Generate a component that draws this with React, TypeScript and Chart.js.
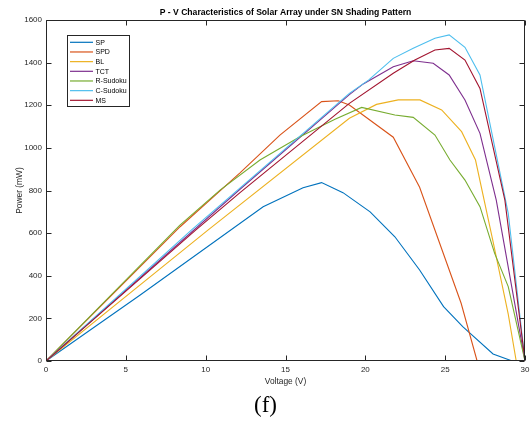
import React, { useEffect, useRef } from "react";
import { Chart, registerables } from "chart.js";

Chart.register(...registerables);

const chartTitle = "P - V Characteristics of Solar Array under SN Shading Pattern";
const xLabel = "Voltage (V)";
const yLabel = "Power (mW)";
const caption = "(f)";

const xTickStep = 5;
const yTickStep = 200;
const xMin = 0, xMax = 30, yMin = 0, yMax = 1600;

const seriesNames = ["SP", "SPD", "BL", "TCT", "R-Sudoku", "C-Sudoku", "MS"];
const seriesColors = ["#0072BD", "#D95319", "#EDB120", "#7E2F8E", "#77AC30", "#4DBEEE", "#A2142F"];

const spV = [0, 5.9, 13.6, 16.1, 17.26, 18.6, 20.3, 21.85, 23.4, 24.9, 26.1, 28.0, 29.2];
const spP = [0, 310, 724, 813, 837, 790, 700, 583, 427, 255, 161, 33, 0];

const spdV = [0, 8.4, 12.15, 14.65, 17.26, 18.3, 19.0, 21.75, 23.4, 26.0, 27.0];
const spdP = [0, 630, 883, 1060, 1217, 1221, 1201, 1050, 815, 271, 0];

const blV = [0, 10.16, 19.0, 20.7, 22.06, 23.42, 24.78, 26.03, 26.9, 28.0, 28.95, 29.45];
const blP = [0, 615, 1139, 1204, 1225, 1225, 1178, 1076, 943, 560, 220, 0];

const tctV = [0, 12.15, 19.0, 19.87, 21.75, 23.0, 24.25, 25.25, 26.24, 27.18, 28.2, 30];
const tctP = [0, 806, 1250, 1300, 1381, 1409, 1397, 1342, 1225, 1068, 755, 0];

const rsV = [0, 8.39, 10.9, 13.4, 15.9, 18.1, 19.77, 21.85, 23.0, 24.36, 25.3, 26.24, 27.18, 28.1, 28.95, 30];
const rsP = [0, 638, 802, 943, 1052, 1134, 1190, 1154, 1143, 1060, 943, 849, 724, 505, 349, 0];

const csV = [0, 9.12, 19.0, 20.2, 21.75, 23.0, 24.36, 25.25, 26.24, 27.18, 28.95, 30];
const csP = [0, 615, 1256, 1318, 1420, 1467, 1514, 1530, 1472, 1342, 693, 0];

const msV = [0, 9.39, 12.15, 19.0, 21.75, 23.1, 24.36, 25.25, 26.24, 27.18, 28.74, 30];
const msP = [0, 615, 790, 1209, 1350, 1412, 1459, 1467, 1412, 1279, 755, 0];

const seriesV = [spV, spdV, blV, tctV, rsV, csV, msV];
const seriesP = [spP, spdP, blP, tctP, rsP, csP, msP];

const FONT = '"Liberation Sans", Arial, Helvetica, sans-serif';
const AXIS_COLOR = "#262626";

const decorPlugin = {
  id: "matlabDecor",
  afterDraw(chart: any) {
    const ctx = chart.ctx as CanvasRenderingContext2D;
    const { left, right, top, bottom } = chart.chartArea;
    const xs = chart.scales.x;
    const ys = chart.scales.y;
    ctx.save();
    ctx.strokeStyle = AXIS_COLOR;
    ctx.lineWidth = 1;
    const L = Math.round(left) + 0.5, R = Math.round(right) - 0.5;
    const T = Math.round(top) + 0.5, B = Math.round(bottom) - 0.5;
    ctx.beginPath();
    ctx.rect(L, T, R - L, B - T);
    ctx.stroke();
    const tl = 5;
    ctx.beginPath();
    for (let v = xMin; v <= xMax; v += xTickStep) {
      const px = Math.round(xs.getPixelForValue(v)) + 0.5;
      ctx.moveTo(px, B); ctx.lineTo(px, B - tl);
      ctx.moveTo(px, T); ctx.lineTo(px, T + tl);
    }
    for (let v = yMin; v <= yMax; v += yTickStep) {
      const py = Math.round(ys.getPixelForValue(v)) + 0.5;
      ctx.moveTo(L, py); ctx.lineTo(L + tl, py);
      ctx.moveTo(R, py); ctx.lineTo(R - tl, py);
    }
    ctx.stroke();
    ctx.fillStyle = "#000";
    ctx.font = `bold 8.6px ${FONT}`;
    ctx.textAlign = "center";
    ctx.textBaseline = "middle";
    ctx.fillText(chartTitle, (left + right) / 2, 13);
    const lx = 67, ly = 35, lw = 62, lh = 71;
    ctx.fillStyle = "#fff";
    ctx.fillRect(lx, ly, lw, lh);
    ctx.strokeStyle = AXIS_COLOR;
    ctx.strokeRect(lx + 0.5, ly + 0.5, lw, lh);
    ctx.font = `7px ${FONT}`;
    ctx.textAlign = "left";
    ctx.textBaseline = "middle";
    seriesNames.forEach((name, i) => {
      const y = 42.3 + i * 9.67;
      ctx.strokeStyle = seriesColors[i];
      ctx.lineWidth = 1.2;
      ctx.beginPath();
      ctx.moveTo(70, y); ctx.lineTo(93, y);
      ctx.stroke();
      ctx.fillStyle = "#000";
      ctx.fillText(name, 95.5, y + 0.5);
    });
    ctx.font = `23px "Liberation Serif", "Times New Roman", serif`;
    ctx.textAlign = "center";
    ctx.textBaseline = "alphabetic";
    ctx.fillStyle = "#000";
    ctx.fillText(caption, 265.5, 412);
    ctx.restore();
  },
};

export default function App() {
  const ref = useRef<HTMLCanvasElement | null>(null);
  useEffect(() => {
    if (!ref.current) return;
    const datasets = seriesNames.map((name, i) => ({
      label: name,
      data: seriesV[i].map((v, j) => ({ x: v, y: seriesP[i][j] })),
      borderColor: seriesColors[i],
      backgroundColor: seriesColors[i],
      borderWidth: 1.1,
      pointRadius: 0,
      tension: 0,
      fill: false,
      order: seriesNames.length - i,
    }));
    const chart = new Chart(ref.current, {
      type: "line",
      data: { datasets },
      options: {
        responsive: false,
        animation: false,
        devicePixelRatio: 1,
        layout: { padding: { top: 20, right: 6, bottom: 34, left: 0 } },
        plugins: {
          legend: { display: false },
          title: { display: false },
          tooltip: { enabled: false },
        },
        scales: {
          x: {
            type: "linear",
            min: xMin,
            max: xMax,
            afterFit: (s: any) => { s.height = 30; s.paddingRight = 0; s.paddingLeft = 0; },
            grid: { display: false, drawTicks: false },
            border: { display: false },
            ticks: { stepSize: xTickStep, padding: 4, color: AXIS_COLOR, font: { family: FONT, size: 8 }, maxRotation: 0, callback: (v: any) => String(v) },
            title: { display: true, text: xLabel, color: AXIS_COLOR, font: { family: FONT, size: 8.4 }, padding: { top: 0, bottom: 4 } },
          },
          y: {
            type: "linear",
            min: yMin,
            max: yMax,
            afterFit: (s: any) => { s.width = 46; s.paddingTop = 0; s.paddingBottom = 0; },
            grid: { display: false, drawTicks: false },
            border: { display: false },
            ticks: { stepSize: yTickStep, padding: 4, color: AXIS_COLOR, font: { family: FONT, size: 8 }, callback: (v: any) => String(v) },
            title: { display: true, text: yLabel, color: AXIS_COLOR, font: { family: FONT, size: 8.4 }, padding: { top: 15, bottom: 0 } },
          },
        },
      },
      plugins: [decorPlugin],
    });
    return () => chart.destroy();
  }, []);
  return (
    <div style={{ position: "absolute", left: 0, top: 0, width: 531, height: 425, background: "#fff" }}>
      <canvas ref={ref} width={531} height={425} style={{ display: "block" }} />
    </div>
  );
}
